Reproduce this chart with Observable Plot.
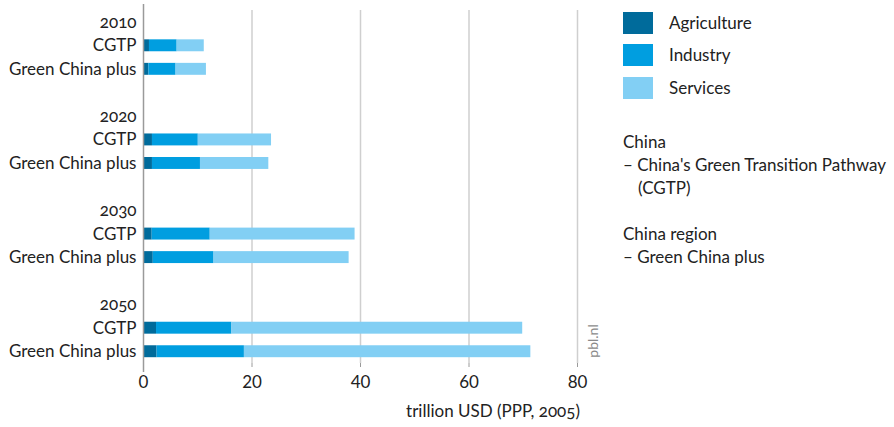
<!DOCTYPE html>
<html>
<head>
<meta charset="utf-8">
<script src="https://cdn.jsdelivr.net/npm/d3@7"></script>
<script src="https://cdn.jsdelivr.net/npm/@observablehq/plot@0.6"></script>
<style>
  html, body { margin: 0; padding: 0; background: #fff; }
  #wrap { position: relative; width: 894px; height: 427px; font-family: Lato, "Noto Sans", sans-serif; color: #222; font-variant-numeric: oldstyle-nums; }
  .abs { position: absolute; white-space: nowrap; font-size: 17px; line-height: 23px; }
  .sw { position: absolute; width: 30px; height: 22px; }
</style>
</head>
<body>
<div id="wrap"></div>
<script>
const years = ["2010", "2020", "2030", "2050"];
const scenarios = ["CGTP", "Green China plus"];
const sectors = ["Agriculture", "Industry", "Services"];
const colors = ["#006b9b", "#009ee0", "#82cff4"];
// order: 2010 CGTP, 2010 GCP, 2020 CGTP, 2020 GCP, ...
const agriculture = [1.1, 1.0, 1.65, 1.65, 1.6, 1.8, 2.4, 2.5];
const industry = [5.1, 5.0, 8.45, 8.85, 10.7, 11.2, 13.9, 16.1];
const services = [5.0, 5.6, 13.5, 12.6, 26.7, 24.9, 53.6, 52.8];
const xTicks = [0, 20, 40, 60, 80];

const seriesVals = [agriculture, industry, services];
const rows = [];
const labels = new Map();
years.forEach((y, i) => {
  rows.push(y); labels.set(y, y);
  scenarios.forEach(s => { const k = y + "|" + s; rows.push(k); labels.set(k, s); });
  if (i < years.length - 1) { const g = y + "|gap"; rows.push(g); labels.set(g, ""); }
});
const data = [];
years.forEach((y, i) => {
  scenarios.forEach((s, j) => {
    sectors.forEach((sec, k) => {
      data.push({key: y + "|" + s, sector: sec, value: seriesVals[k][i * 2 + j]});
    });
  });
});

const chart = Plot.plot({
  width: 894,
  height: 427,
  marginLeft: 143,
  marginRight: 317,
  marginTop: 10,
  marginBottom: 64,
  style: {fontFamily: "Lato, 'Noto Sans', sans-serif", fontSize: "17px", color: "#222", fontVariantNumeric: "oldstyle-nums"},
  x: {domain: [0, 80]},
  y: {domain: rows, padding: 0, round: false},
  color: {domain: sectors, range: colors},
  marks: [
    Plot.gridX(xTicks.slice(1), {stroke: "#cfcfcf", strokeOpacity: 1, strokeWidth: 1.5}),
    Plot.barX(data, {x: "value", y: "key", fill: "sector", insetTop: 5.8, insetBottom: 5.8}),
    Plot.ruleX([0], {stroke: "#9a9a9a", strokeWidth: 1.5, insetTop: -6, insetBottom: -9}),
    Plot.axisX(xTicks, {tickSize: 4, tickPadding: 8, label: null, stroke: "#9a9a9a", fontSize: 17}),
    Plot.axisY({tickSize: 0, tickPadding: 7, tickFormat: d => labels.get(d), label: null, fontSize: 17})
  ]
});

const wrap = document.getElementById("wrap");
wrap.appendChild(chart);

function addText(txt, x, yc, opts = {}) {
  const d = document.createElement("div");
  d.className = "abs";
  d.textContent = txt;
  d.style.left = x + "px";
  d.style.top = (yc - 11.5) + "px";
  Object.assign(d.style, opts);
  wrap.appendChild(d);
  return d;
}
// legend
sectors.forEach((s, i) => {
  const top = [12, 44, 77][i];
  const sw = document.createElement("div");
  sw.className = "sw";
  sw.style.left = "623px";
  sw.style.top = top + "px";
  sw.style.background = colors[i];
  wrap.appendChild(sw);
  addText(s, 669, top + 10);
});
// notes
addText("China", 623, 141);
addText("\u2013 China's Green Transition Pathway", 623, 164);
addText("(CGTP)", 638, 187);
addText("China region", 623, 233);
addText("\u2013 Green China plus", 623, 256);
// x label
const xl = addText("trillion USD (PPP, 2005)", 0, 410);
xl.style.left = "";
xl.style.right = (894 - 580) + "px";
// pbl.nl
const p = addText("pbl.nl", 593, 341, {fontSize: "14px", color: "#8a8a8a"});
p.style.left = "593px";
p.style.top = "341px";
p.style.transform = "translate(-50%, -50%) rotate(-90deg)";
p.style.lineHeight = "14px";
</script>
</body>
</html>
